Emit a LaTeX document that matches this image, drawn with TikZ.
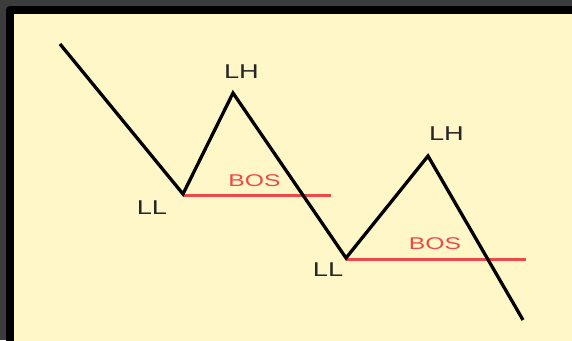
\documentclass[tikz,border=0pt]{standalone}
\usepackage{fontspec}
\setmainfont{Liberation Sans}
\definecolor{fondo}{RGB}{60,60,60}
\definecolor{papel}{RGB}{255,247,200}
\definecolor{rojo}{RGB}{238,72,72}
\begin{document}
\begin{tikzpicture}[
            x=1pt, y=-1pt,
            onda/.style  ={draw=black, line width=3.3pt, line join=miter},
            bos/.style   ={draw=rojo, line width=2.3pt},
            punto/.style ={inner sep=0pt, xscale=1.36, font=\fontsize{20}{20}\selectfont, text=black!85},
            rotulo/.style={inner sep=0pt, xscale=1.45, font=\fontsize{17}{17}\selectfont, text=rojo}
        ]
            %-----------------  Marco  --------------------
            \useasboundingbox (0,0) rectangle (572,340);
            \fill[fondo] (0,0) rectangle (572,340);
            \fill[black, rounded corners=4pt] (6,6) rectangle (590,360);
            \fill[papel] (14,14) rectangle (590,360);

            %-----------------  Puntos de giro  --------------------
            \coordinate (ini) at (60,44);
            \coordinate (ll1) at (183,194);
            \coordinate (lh1) at (233,93);
            \coordinate (ll2) at (346,258);
            \coordinate (lh2) at (428,156);
            \coordinate (fin) at (523,320);

            % Inicio y fin de las rupturas (BOS)
            \coordinate (a1) at (183,195.5);
            \coordinate (b1) at (331,195.5);
            \coordinate (a2) at (346,259.5);
            \coordinate (b2) at (526,259.5);

            %-----------------  Rupturas de estructura  ---------------
            \draw[bos] (a1) -- (b1);
            \draw[bos] (a2) -- (b2);

            %-----------------  Precio en zigzag  -------------
            \draw[onda] (ini) -- (ll1) -- (lh1) -- (ll2) -- (lh2) -- (fin);

            % Etiquetas
            \node[punto] (tlh1) at (241.5,72) {LH};
            \node[punto] (tll1) at (152,207.5) {LL};
            \node[punto] (tll2) at (328,269.5) {LL};
            \node[punto] (tlh2) at (446.5,134) {LH};
            \node[rotulo] (tbos1) at (254.5,181) {BOS};
            \node[rotulo] (tbos2) at (435,243.5) {BOS};
        \end{tikzpicture}
\end{document}
